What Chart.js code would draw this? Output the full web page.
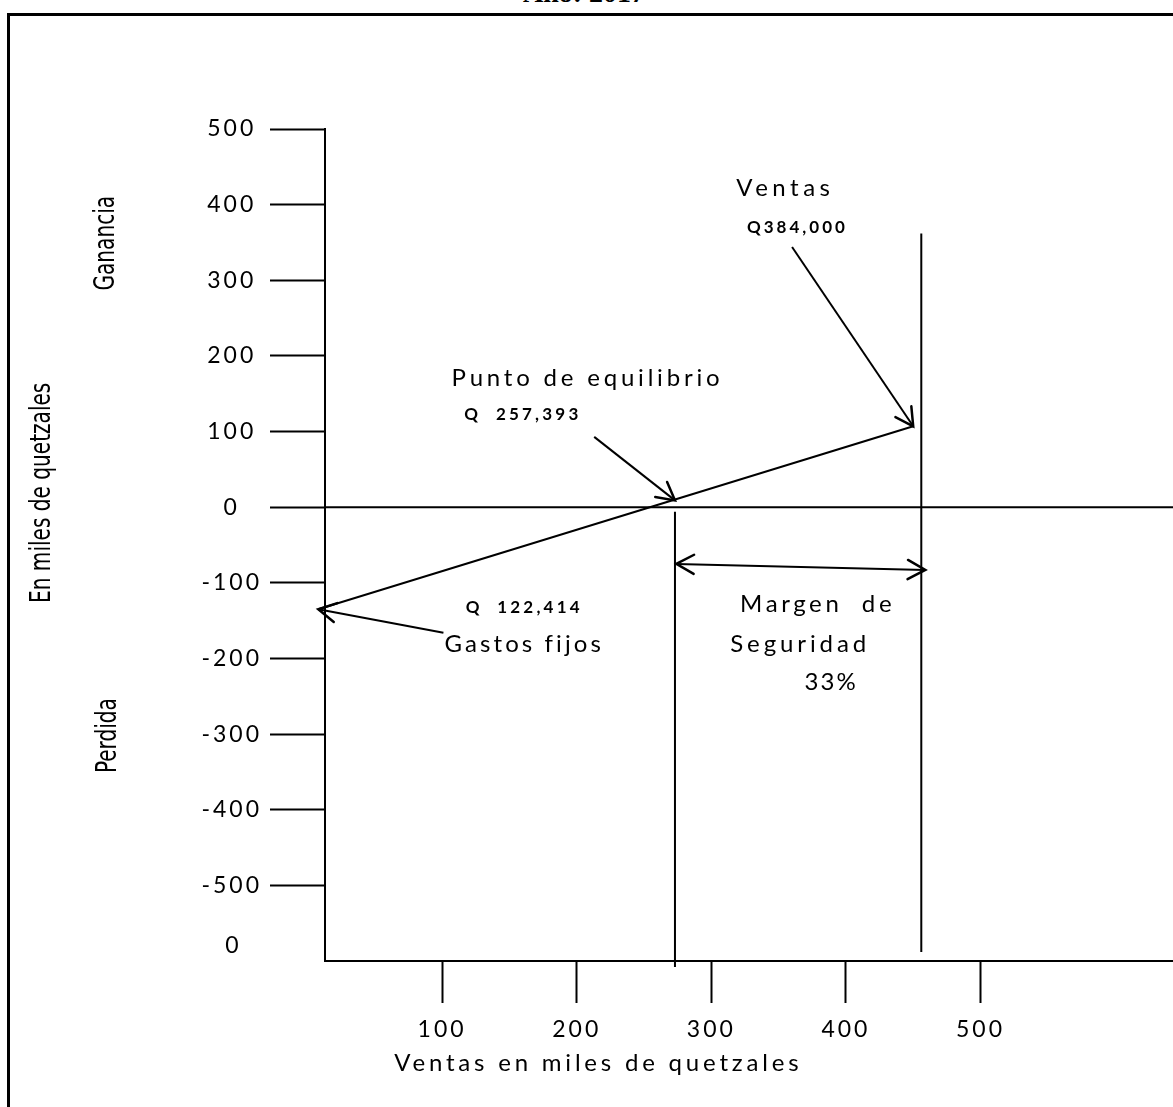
<!DOCTYPE html>
<html lang="es">
<head>
<meta charset="utf-8">
<title>Punto de equilibrio - Año 2017</title>
<script src="https://cdn.jsdelivr.net/npm/chart.js@4.4.1/dist/chart.umd.min.js"></script>
<style>
  html, body { margin: 0; padding: 0; background: #fff; overflow: hidden; }
  #marco {
    position: absolute; left: 7px; top: 13px; width: 1300px; height: 1300px;
    border-top: 3px solid #000; border-left: 3px solid #000;
  }
  #titulo {
    position: absolute; left: 0; width: 1168px; top: -23px; line-height: 32px; text-align: center;
    font: bold 28px "Liberation Serif", "Times New Roman", serif; color: #000;
  }
  #grafico { position: absolute; left: 0; top: 0; }
</style>
</head>
<body>
<div id="marco"></div>
<div id="titulo">Año: 2017</div>
<canvas id="grafico" width="1173" height="1107"></canvas>
<script>
// Marcas de los ejes (miles de quetzales)
const ticksX = [100, 200, 300, 400, 500];
const ticksY = [500, 400, 300, 200, 100, 0, -100, -200, -300, -400, -500];

// Linea de resultado: desde los gastos fijos hasta la utilidad en ventas
const resultadoX = [8, 450];
const resultadoY = [-135, 107];

// Linea del cero (ni ganancia ni perdida)
const ceroX = [13, 643];
const ceroY = [0, 0];

// Lineas verticales: punto de equilibrio y ventas
const equilibrioX = [273, 273];
const equilibrioY = [-6, -608];
const ventasX = [456, 456];
const ventasY = [362, -588];

// Flechas indicadoras
const flechaEquilibrioX = [213, 273];
const flechaEquilibrioY = [93, 9];
const flechaVentasX = [360, 450];
const flechaVentasY = [344, 107];
const flechaGastosX = [101, 8];
const flechaGastosY = [-166, -135];
const margenX = [274, 459];
const margenY = [-75, -83];

// Textos del grafico
const textos = [
  { t: "Ventas", x: 355, y: 422, size: 24, sp: 4.5 },
  { t: "Q384,000", x: 364, y: 370, size: 17, sp: 3, bold: true },
  { t: "Punto de equilibrio", x: 208, y: 171, size: 24, sp: 3.8 },
  { t: "Q  257,393", x: 160, y: 122, size: 17, sp: 3.2, bold: true },
  { t: "Q  122,414", x: 161, y: -132, size: 17, sp: 3.2, bold: true },
  { t: "Gastos fijos", x: 161, y: -181, size: 24, sp: 3.1 },
  { t: "Margen  de", x: 379, y: -129, size: 24, sp: 3.6 },
  { t: "Seguridad", x: 366, y: -181, size: 24, sp: 3.9 },
  { t: "33%", x: 389, y: -231, size: 24, sp: 2 },
  { t: "Ventas en miles de quetzales", x: 216, y: -735, size: 24, sp: 3.8 },
  { t: "0", x: -55, y: -580, size: 23, sp: 3 }
];
const textosVerticales = [
  { t: "Ganancia", x: -149, y: 349 },
  { t: "Perdida", x: -148, y: -302 },
  { t: "En miles de quetzales", x: -197, y: 19 }
];

function linea(xs, ys, flecha) {
  return {
    data: xs.map((x, i) => ({ x: x, y: ys[i] })),
    showLine: true,
    borderColor: "#000",
    borderWidth: 2,
    pointRadius: 0,
    clip: false,
    flecha: flecha
  };
}

// dibuja la punta abierta de una flecha
function punta(ctx, desde, hasta) {
  const ang = Math.atan2(hasta.y - desde.y, hasta.x - desde.x);
  const largo = 20;
  const abertura = 0.5;
  ctx.beginPath();
  ctx.moveTo(hasta.x - largo * Math.cos(ang - abertura), hasta.y - largo * Math.sin(ang - abertura));
  ctx.lineTo(hasta.x, hasta.y);
  ctx.lineTo(hasta.x - largo * Math.cos(ang + abertura), hasta.y - largo * Math.sin(ang + abertura));
  ctx.stroke();
}

const anotaciones = {
  id: "anotaciones",
  beforeDraw(chart) {
    chart.ctx.letterSpacing = "3px";
  },
  afterDraw(chart) {
    const ctx = chart.ctx;
    const sx = chart.scales.x;
    const sy = chart.scales.y;
    ctx.save();
    ctx.strokeStyle = "#000";
    ctx.lineWidth = 2.5;
    ctx.lineCap = "round";
    chart.data.datasets.forEach((ds, i) => {
      if (!ds.flecha) return;
      const pts = chart.getDatasetMeta(i).data;
      const a = pts[0], b = pts[pts.length - 1];
      if (ds.flecha === "fin" || ds.flecha === "ambos") punta(ctx, a, b);
      if (ds.flecha === "ambos") punta(ctx, b, a);
    });

    ctx.fillStyle = "#000";
    ctx.textAlign = "center";
    ctx.textBaseline = "middle";
    textos.forEach((o) => {
      ctx.font = (o.bold ? "bold " : "") + o.size + "px Lato, 'Open Sans', sans-serif";
      ctx.letterSpacing = o.sp + "px";
      ctx.fillText(o.t, sx.getPixelForValue(o.x), sy.getPixelForValue(o.y));
    });

    // textos verticales, letra alta y angosta
    ctx.letterSpacing = "0px";
    ctx.font = "29px 'Liberation Sans Narrow', 'DejaVu Sans Condensed', sans-serif";
    textosVerticales.forEach((o) => {
      ctx.save();
      ctx.translate(sx.getPixelForValue(o.x), sy.getPixelForValue(o.y));
      ctx.rotate(-Math.PI / 2);
      ctx.scale(0.77, 1);
      ctx.fillText(o.t, 0, 0);
      ctx.restore();
    });
    ctx.restore();
    ctx.letterSpacing = "0px";
  }
};

const ejeComun = {
  type: "linear",
  grid: {
    drawOnChartArea: false,
    drawTicks: true,
    tickColor: "#000",
    tickWidth: 2
  },
  border: { color: "#000", width: 2 },
  ticks: {
    color: "#000",
    font: { family: "Lato", size: 23 }
  }
};

new Chart(document.getElementById("grafico").getContext("2d"), {
  type: "scatter",
  data: {
    datasets: [
      linea(ceroX, ceroY),
      linea(resultadoX, resultadoY),
      linea(equilibrioX, equilibrioY),
      linea(ventasX, ventasY),
      linea(flechaEquilibrioX, flechaEquilibrioY, "fin"),
      linea(flechaVentasX, flechaVentasY, "fin"),
      linea(flechaGastosX, flechaGastosY, "fin"),
      linea(margenX, margenY, "ambos")
    ]
  },
  options: {
    responsive: false,
    animation: false,
    events: [],
    layout: { padding: { top: 129, right: 0, bottom: 0, left: 0 } },
    plugins: { legend: { display: false }, tooltip: { enabled: false } },
    scales: {
      x: {
        ...ejeComun,
        min: 13,
        max: 643,
        afterFit: (s) => { s.height = 146; },
        afterBuildTicks: (s) => { s.ticks = ticksX.map((v) => ({ value: v })); },
        grid: { ...ejeComun.grid, tickLength: 42 },
        ticks: { ...ejeComun.ticks, padding: 13, maxRotation: 0, autoSkip: false }
      },
      y: {
        ...ejeComun,
        min: -600,
        max: 500,
        afterFit: (s) => { s.width = 325; },
        afterBuildTicks: (s) => { s.ticks = ticksY.map((v) => ({ value: v })); },
        grid: { ...ejeComun.grid, tickLength: 55 },
        ticks: { ...ejeComun.ticks, padding: 14, crossAlign: "center", autoSkip: false }
      }
    }
  },
  plugins: [anotaciones]
});
</script>
</body>
</html>
